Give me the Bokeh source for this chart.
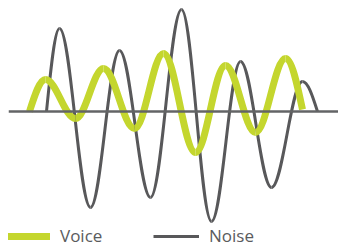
import numpy as np
from bokeh.plotting import figure
from bokeh.models import ColumnDataSource, Legend, LegendItem, Span, Range1d
from bokeh.embed import file_html
from bokeh.resources import INLINE

# Turning points of each wave (time, amplitude); first and last points sit near the baseline
voice_t = [29, 45, 75, 103, 134, 163, 195, 225, 255, 285, 302]
voice_a = [0, 32, -7, 43, -17, 58, -41, 46, -21, 53, 2]

noise_t = [46, 59, 90, 119, 150, 181, 211, 240, 271, 302, 317]
noise_a = [0, 83, -96, 61, -86, 102, -110, 50, -76, 30, 0]

series_labels = ["Voice", "Noise"]

GREEN = "#c4d62e"
GRAY = "#58585a"
BASE = "#636466"
TEXT = "#5a5b5d"


def wave_segments(t, a):
    """Cubic Bezier segments joining consecutive turning points with sine-like shape."""
    t = np.asarray(t, float)
    a = np.asarray(a, float)
    x0, y0, x1, y1 = t[:-1], a[:-1], t[1:], a[1:]
    dx, dy = x1 - x0, y1 - y0
    k = 1 - 2 / np.pi
    cx0, cy0 = x0 + k * dx, y0.copy()
    cx1, cy1 = x1 - k * dx, y1.copy()
    # first segment leaves the baseline steeply
    cx0[0], cy0[0] = x0[0] + dx[0] / 3, y0[0] + dy[0] * np.pi / 6
    cx1[0], cy1[0] = x1[0] - 0.36 * dx[0], y1[0]
    # last segment returns steeply to the baseline
    cx0[-1], cy0[-1] = x0[-1] + 0.36 * dx[-1], y0[-1]
    cx1[-1], cy1[-1] = x1[-1] - dx[-1] / 3, y1[-1] - dy[-1] * np.pi / 6
    return ColumnDataSource(dict(x0=x0, y0=y0, x1=x1, y1=y1,
                                 cx0=cx0, cy0=cy0, cx1=cx1, cy1=cy1))


p = figure(width=338, height=247, output_backend="svg", toolbar_location=None,
           x_axis_type=None, y_axis_type=None, min_border=0, min_border_left=8,
           x_range=Range1d(8, 338), y_range=Range1d(-136, 111))
p.outline_line_color = None
p.xgrid.visible = False
p.ygrid.visible = False

noise_r = p.bezier(x0="x0", y0="y0", x1="x1", y1="y1", cx0="cx0", cy0="cy0",
                   cx1="cx1", cy1="cy1", source=wave_segments(noise_t, noise_a),
                   line_color=GRAY, line_width=3)
voice_r = p.bezier(x0="x0", y0="y0", x1="x1", y1="y1", cx0="cx0", cy0="cy0",
                   cx1="cx1", cy1="cy1", source=wave_segments(voice_t, voice_a),
                   line_color=GREEN, line_width=7)

p.add_layout(Span(location=0, dimension="width", line_color=BASE, line_width=2.5))

legend = Legend(items=[LegendItem(label=series_labels[0], renderers=[voice_r]),
                       LegendItem(label=series_labels[1], renderers=[noise_r])],
                orientation="horizontal", location=(-4, 0), padding=0, margin=0,
                spacing=10, glyph_width=46, glyph_height=8, label_standoff=10,
                label_width=83, label_height=14,
                label_text_font="Open Sans", label_text_font_size="17px",
                label_text_color=TEXT, border_line_color=None,
                background_fill_alpha=0)
p.add_layout(legend, "center")

open("out.html", "w").write(file_html(p, INLINE))
